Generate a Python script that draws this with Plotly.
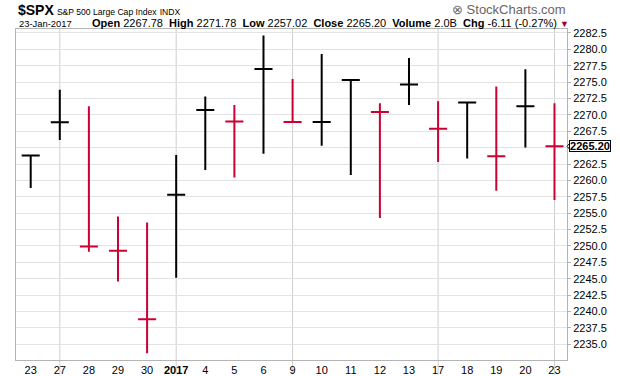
import plotly.graph_objects as go

# ---- data (S&P 500, daily HLC) ----
dates = ["23", "27", "28", "29", "30", "2017", "4", "5", "6", "9", "10",
         "11", "12", "13", "17", "18", "19", "20", "23"]
highs = [2263.79, 2273.82, 2271.31, 2254.51, 2253.58, 2263.88, 2272.82, 2271.50,
         2282.10, 2275.49, 2279.27, 2275.32, 2271.78, 2278.68, 2272.08, 2272.01,
         2274.33, 2276.96, 2271.78]
lows = [2258.84, 2266.15, 2249.11, 2244.56, 2233.62, 2245.13, 2261.60, 2260.45,
        2264.06, 2268.90, 2265.27, 2260.83, 2254.25, 2271.51, 2262.81, 2263.35,
        2258.41, 2265.01, 2257.02]
closes = [2263.79, 2268.88, 2249.92, 2249.26, 2238.83, 2257.83, 2270.75, 2269.00,
          2276.98, 2268.90, 2268.90, 2275.32, 2270.44, 2274.64, 2267.89, 2271.89,
          2263.69, 2271.31, 2265.20]
prev_close = 2260.96
week_starts = [1, 5, 9, 14, 18]
y_ticks = [2235.0 + 2.5 * i for i in range(20)]

BLACK = "#000000"
RED = "#CC0033"
FONT = "Liberation Sans, Arial, sans-serif"

idx = list(range(len(dates)))
prevs = [prev_close] + closes[:-1]
up = [c >= p for c, p in zip(closes, prevs)]
last = closes[-1]

fig = go.Figure()
for flag, col in [(True, BLACK), (False, RED)]:
    sel = [i for i in idx if up[i] == flag]
    fig.add_trace(go.Ohlc(
        x=sel,
        open=[closes[i] for i in sel],
        high=[highs[i] for i in sel],
        low=[lows[i] for i in sel],
        close=[closes[i] for i in sel],
        tickwidth=0.31,
        increasing=dict(line=dict(color=col, width=2)),
        decreasing=dict(line=dict(color=col, width=2)),
        hoverinfo="skip", showlegend=False,
    ))

shapes = []
for w in week_starts:
    shapes.append(dict(type="line", xref="x", yref="paper", x0=w, x1=w,
                       y0=-0.045, y1=1, layer="below",
                       line=dict(color="#cfcfcf", width=1)))

# small arrow for the last-price marker
shapes.append(dict(type="path", xref="paper", yref="y",
                   path=f"M 1.000,{last} L 1.0075,{last+0.7} L 1.0075,{last-0.7} Z",
                   fillcolor="white", line=dict(color="black", width=1)))

y_text = ["" if abs(v - last) < 1.5 else f"{v:.1f}" for v in y_ticks]

TOP = 1 + 29 / 331

fig.update_layout(
    width=620, height=376,
    margin=dict(l=16, r=53, t=29, b=16),
    paper_bgcolor="white", plot_bgcolor="white",
    font=dict(family=FONT, size=11, color="black"),
    shapes=shapes,
    xaxis=dict(
        range=[-0.505, 18.43], rangeslider=dict(visible=False),
        tickmode="array", tickvals=idx,
        ticktext=[f"<b>{d}</b>" if d == "2017" else d for d in dates],
        showgrid=False, zeroline=False, ticks="", automargin=False,
        showline=True, linecolor="#b4b4b4", linewidth=1, mirror=True,
        tickfont=dict(size=11, family=FONT),
    ),
    yaxis=dict(
        range=[2232.6, 2283.1], side="right", automargin=False,
        tickmode="array", tickvals=y_ticks, ticktext=y_text,
        showgrid=True, gridcolor="#e3e3e3", gridwidth=1, zeroline=False,
        ticks="outside", ticklen=3, tickcolor="#b4b4b4",
        showline=True, linecolor="#b4b4b4", linewidth=1, mirror=True,
        tickfont=dict(size=11, family=FONT),
    ),
    annotations=[
        dict(xref="paper", yref="paper", x=0, y=TOP, xanchor="left", yanchor="top",
             yshift=0, showarrow=False, align="left",
             text="<b><span style='font-size:14px'>$SPX</span></b> "
                  "<span style='font-size:8.6px'>S&amp;P 500 Large Cap Index</span> "
                  "<span style='font-size:8.6px'>INDX</span>"),
        dict(xref="paper", yref="paper", x=0, y=TOP, xanchor="left", yanchor="top",
             yshift=-16, xshift=1, showarrow=False, align="left",
             text="<span style='font-size:9.4px'>23-Jan-2017</span>"),
        dict(xref="paper", yref="paper", x=74 / 551, y=TOP, xanchor="left", yanchor="top",
             yshift=-15, showarrow=False, align="left",
             text="<b>Open</b> 2267.78  <b>High</b> 2271.78  <b>Low</b> 2257.02  "
                  "<b>Close</b> 2265.20  <b>Volume</b> 2.0B  <b>Chg</b> -6.11 (-0.27%) "
                  "<span style='color:#990033;font-size:9px'>▼</span>"),
        dict(xref="paper", yref="paper", x=1, y=TOP, xanchor="right", yanchor="top",
             yshift=0, xshift=1, showarrow=False,
             text="<span style='color:#666666;font-size:13px'>⊗ StockCharts.com</span>"),
        dict(xref="paper", yref="y", x=1, y=last, xanchor="left", yanchor="middle",
             xshift=2, showarrow=False, text=f"<b>{last:.2f}</b>",
             font=dict(size=11, family=FONT),
             bordercolor="black", borderwidth=1, borderpad=0, bgcolor="white",
             width=40, height=10),
    ],
)

fig.write_html("out.html")
